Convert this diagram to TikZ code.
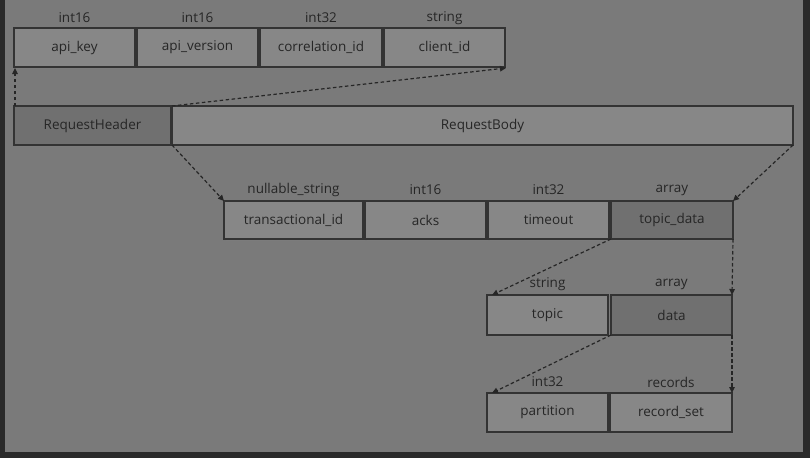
\documentclass[tikz,border=0pt]{standalone}
\usepackage{fontspec}
\setmainfont{Open Sans}
\usetikzlibrary{arrows.meta,shadows,calc}
\definecolor{edgec}{HTML}{2A2A2A}
\definecolor{bgc}{HTML}{7A7A7A}
\definecolor{boxc}{HTML}{878787}
\definecolor{darkc}{HTML}{707070}
\definecolor{bordc}{HTML}{333333}
\definecolor{txtc}{HTML}{262626}
\tikzset{
  box/.style={draw=bordc, line width=1.4pt, fill=boxc, inner sep=0pt, outer sep=0pt,
    anchor=north west, minimum height=39pt, text=txtc, font=\fontsize{13.5}{15}\selectfont,
    drop shadow={shadow xshift=1.5pt, shadow yshift=-1.5pt, opacity=0.35}},
  darkbox/.style={box, fill=darkc},
  typ/.style={text=txtc, font=\fontsize{13.5}{15}\selectfont, inner sep=0pt},
  arr/.style={draw=txtc, line width=1.2pt, dash pattern=on 3.5pt off 2.5pt,
    -{Triangle[length=6pt,width=5.5pt]}}
}
\begin{document}
\begin{tikzpicture}[x=1pt,y=-1pt]
\fill[edgec] (0,0) rectangle (810,458);
\fill[bgc] (5,0) rectangle (803,452);
\useasboundingbox (0,0) rectangle (810,458);

% row 1
\node[box, minimum width=121pt] (apikey) at (14,28) {api\_key};
\node[box, minimum width=121pt] (apiver) at (137,28) {api\_version};
\node[box, minimum width=122pt] (corr) at (260,28) {correlation\_id};
\node[box, minimum width=121pt] (client) at (384,28) {client\_id};
\node[typ] (t1) at ($(apikey.north)+(0,-10)$) {int16};
\node[typ] (t2) at ($(apiver.north)+(0,-10)$) {int16};
\node[typ] (t3) at ($(corr.north)+(0,-10)$) {int32};
\node[typ] (t4) at ($(client.north)+(0,-10)$) {string};

% row 2
\node[darkbox, minimum width=157pt] (rh) at (14,106) {RequestHeader};
\node[box, minimum width=621pt] (rb) at (172,106) {RequestBody};

% row 3
\node[box, minimum width=139pt, minimum height=38pt] (tid) at (224,201) {transactional\_id};
\node[box, minimum width=121pt, minimum height=38pt] (acks) at (365,201) {acks};
\node[box, minimum width=121pt, minimum height=38pt] (tout) at (488,201) {timeout};
\node[darkbox, minimum width=122pt, minimum height=38pt] (td) at (611,201) {topic\_data};
\node[typ] (t5) at ($(tid.north)+(0,-11)$) {nullable\_string};
\node[typ] (t6) at ($(acks.north)+(0,-11)$) {int16};
\node[typ] (t7) at ($(tout.north)+(0,-11)$) {int32};
\node[typ] (t8) at ($(td.north)+(0,-11)$) {array};

% row 4
\node[box, minimum width=121pt, minimum height=40pt] (topic) at (487,295) {topic};
\node[darkbox, minimum width=121pt, minimum height=40pt] (data) at (611,295) {data};
\node[typ] (t9) at ($(topic.north)+(0,-11)$) {string};
\node[typ] (t10) at ($(data.north)+(0,-11)$) {array};

% row 5
\node[box, minimum width=121pt] (part) at (487,393) {partition};
\node[box, minimum width=122pt] (rs) at (610,393) {record\_set};
\node[typ] (t11) at ($(part.north)+(0,-11)$) {int32};
\node[typ] (t12) at ($(rs.north)+(0,-11)$) {records};

% connectors
\draw[arr] ($(rh.north west)+(1,0)$) -- ($(apikey.south west)+(1,1)$);
\draw[arr] (rb.north west) -- ($(client.south east)+(1,1)$);
\draw[arr] (rb.south west) -- (tid.north west);
\draw[arr] (rb.south east) -- (td.north east);
\draw[arr] (td.south west) -- ($(topic.north west)+(5,0)$);
\draw[arr] (td.south east) -- (data.north east);
\draw[arr] (data.south west) -- ($(part.north west)+(5,0)$);
\draw[arr] (data.south east) -- (rs.north east);
\end{tikzpicture}
\end{document}
